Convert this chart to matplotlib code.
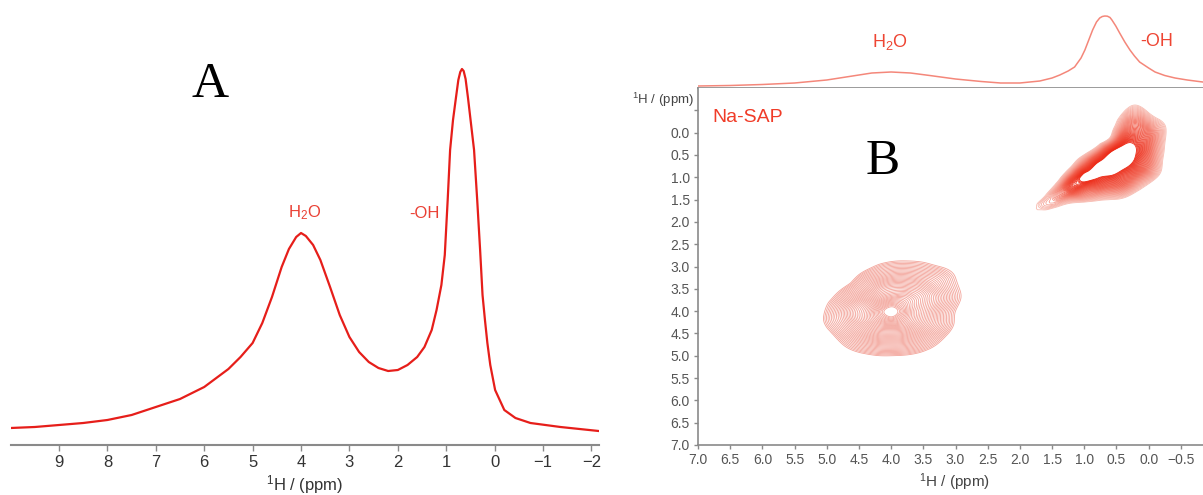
import numpy as np
import matplotlib
matplotlib.use("Agg")
import matplotlib.pyplot as plt
import matplotlib.tri as mtri
from matplotlib.colors import LinearSegmentedColormap

plt.rcParams.update({
    "font.family": ["Liberation Sans", "DejaVu Sans"],
    "mathtext.fontset": "custom",
    "mathtext.rm": "Liberation Sans",
    "mathtext.it": "Liberation Sans:italic",
    "mathtext.bf": "Liberation Sans:bold",
})

RED = "#e61e1a"
LABEL_RED = "#ea4034"
AXIS_GREY = "#8a8a8a"

# ── Panel A: 1D 1H spectrum (ppm, intensity a.u.) ──────────────────────────
a_ppm = [10.0, 9.5, 9.0, 8.5, 8.0, 7.5, 7.0, 6.5, 6.0, 5.75, 5.5, 5.25, 5.0,
         4.8, 4.6, 4.4, 4.25, 4.1, 4.0, 3.9, 3.75, 3.6, 3.4, 3.2, 3.0, 2.8,
         2.6, 2.4, 2.2, 2.0, 1.8, 1.6, 1.45, 1.3, 1.2, 1.1, 1.03, 0.97, 0.92,
         0.86, 0.8, 0.75, 0.71, 0.675, 0.64, 0.6, 0.55, 0.49, 0.425, 0.36,
         0.3, 0.25, 0.2, 0.15, 0.09, -0.01, -0.2, -0.43, -0.74, -1.36, -2.15]
a_int = [17, 18, 20, 22, 25, 30, 38, 46, 58, 67, 76, 88, 102,
         122, 148, 178, 196, 208, 212, 209, 200, 185, 158, 130, 108, 93,
         83, 77, 74, 75, 80, 88, 98, 115, 135, 160, 190, 245, 295,
         325, 347, 365, 373, 376, 374, 366, 347, 322, 295, 245,
         195, 150, 125, 102, 80, 55, 35, 27, 22, 18, 14]

# ── Panel B: projection on top (ppm, intensity a.u.) ───────────────────────
b_ppm = [7.0, 6.5, 6.0, 5.5, 5.0, 4.6, 4.3, 4.0, 3.7, 3.4, 3.0, 2.6, 2.3,
         2.0, 1.69, 1.5, 1.38, 1.25, 1.15, 1.05, 0.99, 0.93, 0.87, 0.81,
         0.76, 0.72, 0.68, 0.64, 0.6, 0.57, 0.51, 0.45, 0.37, 0.29, 0.22,
         0.14, 0.0, -0.1, -0.25, -0.41, -0.6, -0.84, -1.0]
b_int = [2, 2.5, 3.5, 5, 8, 12, 15, 16, 15, 12.5, 9, 6.5, 5,
         5, 7, 10, 13, 17, 21, 30, 38, 48, 58, 66,
         70, 71.5, 72, 71.8, 70.5, 68, 62, 55, 46, 38, 32,
         26, 20, 16, 12.5, 10, 8, 6, 5]

# ── Panel B: 2D intensity grids ────────────────────────────────────────────
h2o_x = [5.5, 5.25, 5.0, 4.75, 4.5, 4.25, 4.0, 3.75, 3.5, 3.25, 3.0, 2.75]
h2o_y = [2.5, 2.75, 3.0, 3.25, 3.5, 3.75, 4.0, 4.25, 4.5, 4.75, 5.0, 5.25]
h2o_z = [
    [-12.7, -11.0, -9.0, -6.9, -5.3, -4.1, -3.2, -2.9, -3.0, -3.3, -3.9, -4.7],
    [-10.8, -9.4, -6.8, -4.8, -3.0, -1.8, -1.0, -0.8, -1.0, -1.6, -2.3, -3.3],
    [-9.1, -7.3, -5.5, -3.1, -1.2, 0.3, 1.1, 1.2, 0.9, 0.2, -0.7, -2.4],
    [-7.3, -5.4, -3.4, -1.7, 0.7, 2.3, 3.2, 3.3, 2.8, 1.9, 0.2, -1.8],
    [-5.9, -3.7, -1.8, 0.3, 2.2, 4.3, 5.4, 5.4, 4.6, 2.8, 0.7, -1.4],
    [-5.0, -2.5, -0.3, 1.9, 4.0, 6.0, 7.5, 7.1, 5.4, 3.3, 0.9, -1.4],
    [-4.3, -1.9, 0.5, 2.9, 5.2, 7.6, 9.7, 7.5, 5.1, 2.6, 0.2, -2.3],
    [-4.4, -2.1, 0.6, 2.6, 4.9, 6.9, 7.8, 6.8, 4.7, 2.4, 0.0, -2.5],
    [-5.0, -2.7, -0.5, 1.6, 3.5, 4.9, 5.2, 4.8, 3.3, 1.4, -0.8, -3.0],
    [-5.8, -3.7, -1.7, 0.2, 1.6, 2.4, 2.6, 2.4, 1.4, -0.1, -2.1, -4.1],
    [-7.0, -5.0, -3.2, -1.5, -0.5, 0.1, 0.2, 0.0, -0.7, -1.9, -3.6, -5.5],
    [-8.3, -7.0, -5.9, -4.6, -3.6, -2.9, -2.6, -2.9, -3.6, -4.6, -5.9, -7.0],
]

oh_x = [2.0, 1.8, 1.6, 1.4, 1.2, 1.0, 0.8, 0.6, 0.4, 0.2, 0.0, -0.2, -0.4]
oh_y = [-0.8, -0.6, -0.4, -0.2, 0.0, 0.2, 0.4, 0.6, 0.8, 1.0, 1.2, 1.4, 1.6,
        1.8, 2.0]
oh_z = [
    [-8, -8, -8, -8, -8, -7, -6.5, -5, -2.8, -1.5, -3.3, -5, -6],
    [-8, -8, -8, -8, -8, -8, -6, -3.5, -1.2, 0.4, -1.4, -3.0, -4.7],
    [-8, -8, -8, -8, -8, -7, -5.3, -2.3, 0.6, 2.6, 0.7, -1.1, -3.0],
    [-8, -8, -8, -8, -8, -7, -4.4, -1.5, 2.5, 4.9, 2.9, 0.7, -2.3],
    [-8, -8, -8, -8, -7, -4.8, -3.0, -0.6, 4.8, 6.8, 5.0, 1.5, -2.0],
    [-8, -8, -8, -7, -4.7, -2.9, -1.2, 2.1, 8.2, 9.0, 5.7, 1.3, -2.3],
    [-8, -8, -7.5, -5.1, -2.9, -1.1, 2.2, 8.5, 11.6, 10.0, 5.5, 1.0, -2.5],
    [-8, -8, -5.9, -3.6, -1.2, 2.2, 7.8, 11.8, 12.8, 9.3, 5.0, 0.6, -2.8],
    [-8, -6.8, -4.4, -2.1, 0.9, 7.0, 11.3, 12.2, 10.3, 7.6, 4.2, 0.3, -3.0],
    [-7, -5.3, -2.9, -0.6, 5.5, 10.8, 10.2, 9.1, 7.5, 4.8, 2.1, -0.8, -3.4],
    [-6, -3.8, -1.4, 2.1, 8.2, 7.5, 6.4, 5.5, 4.6, 2.0, -0.4, -3.0, -6],
    [-4.6, -2.3, 0.2, 3.5, 4.3, 3.3, 2.4, 1.8, 1.2, -0.6, -2.3, -4.5, -7],
    [-3.1, -0.7, 1.4, 1.0, -0.1, -0.5, -0.9, -1.2, -1.5, -2.7, -4.5, -6, -7],
    [-2.0, -0.1, -0.8, -1.5, -2.2, -2.8, -3.5, -4.0, -4.5, -5, -6, -7, -8],
    [-2.9, -2.4, -3, -4, -4.5, -5, -5.5, -6, -6.5, -7, -7.5, -8, -8],
]

a_ticks = [9, 8, 7, 6, 5, 4, 3, 2, 1, 0, -1, -2]
b_ticks = [7.0, 6.5, 6.0, 5.5, 5.0, 4.5, 4.0, 3.5, 3.0, 2.5, 2.0, 1.5, 1.0,
           0.5, 0.0, -0.5]

W, H = 1203, 495


def box(x0, y0, x1, y1):
    # pixel box (top-left origin) -> figure fraction rect
    return [x0 / W, 1 - y1 / H, (x1 - x0) / W, (y1 - y0) / H]


def only_bottom(ax):
    for s in ("top", "right", "left"):
        ax.spines[s].set_visible(False)
    ax.spines["bottom"].set_color(AXIS_GREY)
    ax.spines["bottom"].set_linewidth(1.5)
    ax.set_yticks([])


def smooth_field(xs, ys, zs):
    # let matplotlib's tri refiner draw the grid as smooth contours
    gx, gy = np.meshgrid(xs, ys)
    tri = mtri.Triangulation(gx.ravel(), gy.ravel())
    refiner = mtri.UniformTriRefiner(tri)
    return refiner.refine_field(np.asarray(zs, float).ravel(), subdiv=3)


fig = plt.figure(figsize=(W / 100, H / 100), dpi=100)
fig.patch.set_facecolor("white")

# ── Panel A ─────────────────────────────────────────────────────────────────
axA = fig.add_axes(box(10.6, 20, 598.7, 445))
axA.plot(a_ppm, a_int, color=RED, lw=1.6, solid_joinstyle="round")
axA.set_xlim(10, -2.15)
axA.set_ylim(0, 425)
only_bottom(axA)
axA.set_xticks(a_ticks)
axA.tick_params(axis="x", direction="out", length=4, width=1, color=AXIS_GREY,
                labelsize=12, labelcolor="#333333", pad=3)
axA.text(3.92, 232, "H$_2$O", color=LABEL_RED, fontsize=12,
         ha="center", va="center")
axA.text(1.44, 232, "-OH", color=LABEL_RED, fontsize=12,
         ha="center", va="center")

fig.text(305 / W, 1 - 485 / H, "$^{1}$H / (ppm)", ha="center", va="center",
         fontsize=12, color="#333333")
fig.text(210 / W, 1 - 85 / H, "A", family="Liberation Serif", fontsize=37,
         ha="center", va="center", color="black")

# ── Panel B: projection ───────────────────────────────────────────────────
axT = fig.add_axes(box(698, 0, 1213, 88))
axT.plot(b_ppm, b_int, color="#f4877a", lw=1.1)
axT.set_xlim(7, -1)
axT.set_ylim(0, 88)
only_bottom(axT)
axT.spines["bottom"].set_linewidth(1.2)
axT.set_xticks([])
axT.patch.set_alpha(0)
axT.text(4.02, 46, "H$_2$O", color="#ee4533", fontsize=13,
         ha="center", va="center")
axT.text(-0.13, 46, "-OH", color="#ee4533", fontsize=13,
         ha="center", va="center")

# ── Panel B: 2D map ───────────────────────────────────────────────────────
axB = fig.add_axes(box(698, 88, 1213, 445))
axB.set_xlim(7, -1)
axB.set_ylim(7, -1)
for s in ("top", "right"):
    axB.spines[s].set_visible(False)
for s in ("left", "bottom"):
    axB.spines[s].set_color(AXIS_GREY)
    axB.spines[s].set_linewidth(1.2)

tri_h, z_h = smooth_field(h2o_x, h2o_y, h2o_z)
axB.tricontour(tri_h, z_h, levels=np.linspace(0.2, 9.2, 40),
               colors="#f3a49a", linewidths=0.6)

oh_cmap = LinearSegmentedColormap.from_list("oh", ["#f8beb4", "#f2604e",
                                                   "#ec2410"])
tri_o, z_o = smooth_field(oh_x, oh_y, oh_z)
axB.tricontour(tri_o, z_o, levels=np.linspace(0.2, 9.8, 40),
               cmap=oh_cmap, linewidths=0.6)

axB.set_xticks(b_ticks)
axB.set_xticklabels([f"{t:.1f}".replace("-", "\u2212") for t in b_ticks])
axB.set_yticks([-0.5] + b_ticks[::-1][1:])
axB.set_yticklabels([""] + [f"{t:.1f}" for t in b_ticks[::-1][1:]])
axB.tick_params(direction="out", length=3, width=1, color=AXIS_GREY,
                labelsize=10, labelcolor="#555555", pad=3)

axB.text(6.77, -0.34, "Na-SAP", color="#f03c28", fontsize=14,
         ha="left", va="center")
fig.text(694 / W, 1 - 100 / H, "$^{1}$H / (ppm)", ha="right", va="center",
         fontsize=9.5, color="#444444")
fig.text(955 / W, 1 - 482 / H, "$^{1}$H / (ppm)", ha="center", va="center",
         fontsize=11, color="#444444")
fig.text(883 / W, 1 - 162 / H, "B", family="Liberation Serif", fontsize=37,
         ha="center", va="center", color="black")

fig.savefig("out.png", dpi=100)
